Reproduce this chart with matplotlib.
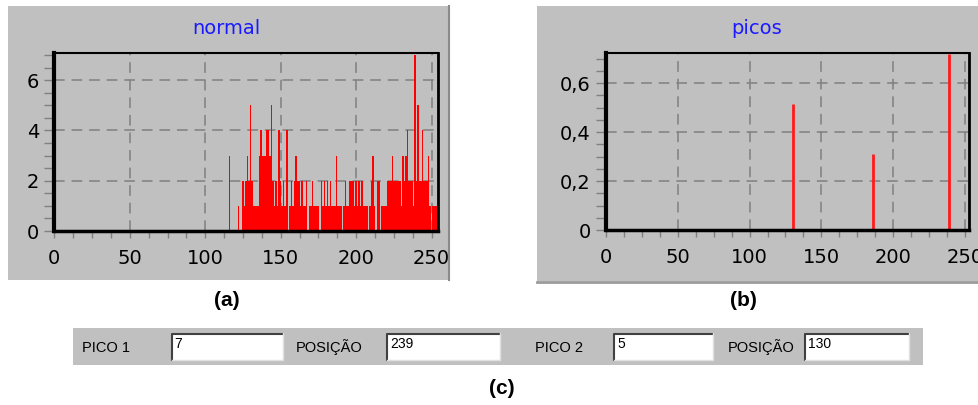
import matplotlib.pyplot as plt
import numpy as np
from matplotlib.patches import Rectangle
from matplotlib.lines import Line2D

# Data
# histogram "normal": counts per grey level 0..254 (zero below 116)
contagem = [0] * 116 + [
    3, 0, 0, 0, 0, 0, 1, 0, 0, 2, 1, 2, 3, 2, 5, 2, 1, 1, 1, 1,      # 116-135
    3, 4, 3, 3, 3, 4, 4, 3, 5, 2, 1, 2, 1, 4, 2, 1, 2, 1, 4, 0,      # 136-155
    1, 2, 1, 2, 3, 2, 2, 1, 2, 1, 1, 2, 0, 1, 1, 2, 1, 1, 1, 1,      # 156-175
    0, 2, 1, 2, 1, 2, 1, 2, 1, 1, 1, 3, 1, 1, 1, 0, 1, 2, 1, 1,      # 176-195
    2, 2, 2, 1, 2, 1, 2, 1, 2, 1, 1, 1, 0, 1, 2, 3, 1, 0, 2, 2,      # 196-215
    0, 1, 1, 1, 1, 2, 2, 2, 3, 2, 2, 2, 2, 2, 1, 3, 2, 3, 4, 2,      # 216-235
    2, 2, 1, 7, 2, 5, 2, 2, 4, 2, 2, 2, 3, 1, 0, 1, 1, 1, 1,         # 236-254
]
niveis = np.arange(len(contagem))

# "picos": detected peaks
pico_pos = [130, 186, 239]
pico_val = [0.515, 0.31, 0.72]

x_ticks = [0, 50, 100, 150, 200, 250]
y_ticks_a = [0, 2, 4, 6]
y_ticks_b = [0, 0.2, 0.4, 0.6]
y_labels_b = ['0', '0,2', '0,4', '0,6']

# bottom panel fields
campos = ['PICO 1', 'POSIÇÃO', 'PICO 2', 'POSIÇÃO']
valores = ['7', '239', '5', '130']

W, H = 979, 405
GREY = '#c0c0c0'


def fr(x0, y0, x1, y1):
    # pixel box (top-left origin) -> figure fraction rect
    return [x0 / W, 1 - y1 / H, (x1 - x0) / W, (y1 - y0) / H]


def rect(x0, y0, x1, y1, **kw):
    r = fr(x0, y0, x1, y1)
    fig.add_artist(Rectangle((r[0], r[1]), r[2], r[3],
                             transform=fig.transFigure, **kw))


def line(xs, ys, **kw):
    fig.add_artist(Line2D([x / W for x in xs], [1 - y / H for y in ys],
                          transform=fig.transFigure, **kw))


fig = plt.figure(figsize=(W / 100, H / 100), dpi=100)
fig.patch.set_facecolor('white')
plt.rcParams['font.family'] = ['DejaVu Sans']

# panel backgrounds
rect(8, 6, 450, 280, facecolor=GREY, edgecolor='none', zorder=-2)
line([449, 449], [6, 280], color='#8a8a8a', lw=1.5, zorder=-1)
rect(537, 6, 979, 281, facecolor=GREY, edgecolor='none', zorder=-2)
line([537, 979], [281.5, 281.5], color='#9a9a9a', lw=2, zorder=-1)


def style_axes(ax, xmax, ymax, yminor):
    ax.set_facecolor(GREY)
    ax.set_xlim(0, xmax)
    ax.set_ylim(0, ymax)
    ax.set_xticks(x_ticks)
    ax.set_xticks(np.arange(0, xmax, 12.5), minor=True)
    ax.set_yticks(np.arange(0, ymax, yminor), minor=True)
    ax.grid(True, which='major', color='#808080',
            linestyle=(0, (7, 4.5)), linewidth=1.1)
    ax.set_axisbelow(True)
    ax.tick_params(axis='y', which='both', direction='out', color='#808080',
                   length=7, width=1, pad=4, labelsize=14)
    ax.tick_params(axis='x', which='both', direction='out', color='#808080',
                   length=5, width=1, pad=8, labelsize=14)
    for s, w in zip(['left', 'bottom', 'top', 'right'], [3, 2.5, 1.5, 2]):
        ax.spines[s].set_linewidth(w)
        ax.spines[s].set_color('black')


# (a) normal
ax1 = fig.add_axes(fr(54.3, 53, 438, 231))
ax1.bar(niveis, contagem, width=1.0, color='red', linewidth=0)
style_axes(ax1, 254.2, 7.08, 0.5)
ax1.set_yticks(y_ticks_a)
fig.text(226 / W, 1 - 29 / H, 'normal', color='#1a1aff', fontsize=14,
         ha='center', va='center')

# (b) picos
ax2 = fig.add_axes(fr(606, 52.7, 969.3, 230))
ax2.vlines(pico_pos, 0, pico_val, color='#ff1a1a', linewidth=2)
style_axes(ax2, 253, 0.725, 0.05)
ax2.set_yticks(y_ticks_b)
ax2.set_yticklabels(y_labels_b)
fig.text(757 / W, 1 - 29 / H, 'picos', color='#1a1aff', fontsize=14,
         ha='center', va='center')

# sub labels
for lab, xc, yc in [('(a)', 227, 301), ('(b)', 743, 301), ('(c)', 502, 388)]:
    fig.text(xc / W, 1 - yc / H, lab, fontsize=15, fontweight='bold',
             family='Liberation Sans', ha='center', va='center')

# (c) bottom panel
rect(72.7, 328, 923.3, 365, facecolor=GREY, edgecolor='none', zorder=-2)
label_x = [81.7, 296, 535, 727.7]
boxes = [(171.7, 282.7), (387.3, 500.5), (614, 713.3), (805, 909.3)]
for nome, val, lx, (bx0, bx1) in zip(campos, valores, label_x, boxes):
    fig.text(lx / W, 1 - 347.5 / H, nome, fontsize=10.5,
             family='Liberation Sans', ha='left', va='center')
    rect(bx0, 333.3, bx1, 360, facecolor='white', edgecolor='none', zorder=1)
    line([bx0, bx0, bx1], [360, 333.6, 333.6], color='#404040', lw=1.5, zorder=2)
    line([bx0, bx1, bx1], [359.6, 359.6, 333.3], color='#e0e0e0', lw=1, zorder=2)
    fig.text((bx0 + 3) / W, 1 - 343.5 / H, val, fontsize=10,
             family='Liberation Sans', ha='left', va='center', zorder=3)

fig.savefig('out.png', dpi=100)
